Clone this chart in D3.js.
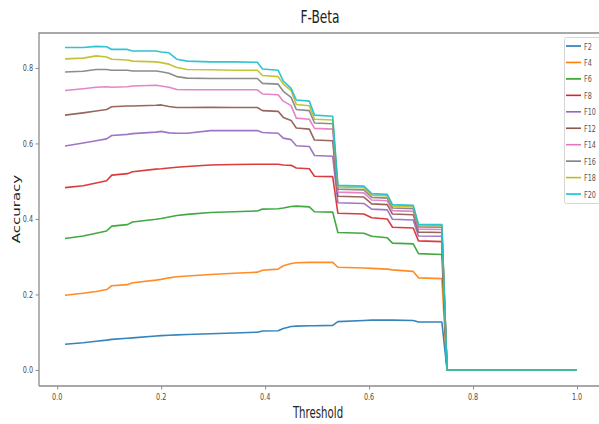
<!DOCTYPE html>
<html>
<head>
<meta charset="utf-8">
<script src="https://cdn.jsdelivr.net/npm/d3@7/dist/d3.min.js"></script>
<style>
  body { margin: 0; background: #fff; }
  svg text { font-family: "DejaVu Sans", sans-serif; }
</style>
</head>
<body>
<svg id="chart" width="599" height="424"></svg>
<script>
// thresholds (x) and one accuracy list per beta value
var thresholds = [0.015, 0.05, 0.075, 0.095, 0.105, 0.135, 0.145, 0.19, 0.2, 0.215, 0.23,
  0.25, 0.295, 0.34, 0.385, 0.395, 0.425, 0.435, 0.45, 0.46, 0.485, 0.495, 0.53, 0.54,
  0.59, 0.605, 0.635, 0.645, 0.685, 0.695, 0.74, 0.75, 1.0];

var f2 = [0.068, 0.072, 0.076, 0.079, 0.081, 0.084, 0.085, 0.090, 0.091, 0.092, 0.093,
  0.094, 0.096, 0.098, 0.100, 0.103, 0.104, 0.110, 0.115, 0.116, 0.117, 0.117, 0.118, 0.128,
  0.131, 0.132, 0.132, 0.132, 0.131, 0.127, 0.127, 0, 0];
var f4 = [0.198, 0.203, 0.208, 0.213, 0.223, 0.226, 0.231, 0.238, 0.240, 0.244, 0.247,
  0.249, 0.253, 0.256, 0.259, 0.264, 0.267, 0.276, 0.282, 0.284, 0.285, 0.285, 0.285, 0.272,
  0.270, 0.269, 0.267, 0.265, 0.261, 0.244, 0.242, 0, 0];
var f6 = [0.348, 0.355, 0.362, 0.368, 0.381, 0.385, 0.392, 0.399, 0.401, 0.405, 0.409,
  0.412, 0.417, 0.419, 0.421, 0.426, 0.427, 0.429, 0.433, 0.434, 0.432, 0.419, 0.418, 0.364,
  0.362, 0.354, 0.350, 0.336, 0.334, 0.308, 0.306, 0, 0];
var f8 = [0.483, 0.488, 0.495, 0.501, 0.516, 0.520, 0.525, 0.532, 0.533, 0.535, 0.537,
  0.539, 0.543, 0.544, 0.545, 0.545, 0.545, 0.543, 0.542, 0.535, 0.533, 0.513, 0.512, 0.415,
  0.413, 0.403, 0.400, 0.378, 0.376, 0.342, 0.340, 0, 0];
var f10 = [0.593, 0.601, 0.607, 0.612, 0.621, 0.624, 0.626, 0.630, 0.632, 0.628, 0.627,
  0.627, 0.634, 0.634, 0.634, 0.629, 0.627, 0.614, 0.610, 0.594, 0.592, 0.568, 0.566, 0.443,
  0.441, 0.426, 0.424, 0.399, 0.397, 0.355, 0.354, 0, 0];
var f12 = [0.675, 0.681, 0.686, 0.690, 0.697, 0.699, 0.699, 0.701, 0.702, 0.698, 0.695,
  0.695, 0.696, 0.695, 0.695, 0.687, 0.685, 0.669, 0.661, 0.641, 0.638, 0.609, 0.607, 0.460,
  0.458, 0.440, 0.438, 0.413, 0.411, 0.365, 0.364, 0, 0];
var f14 = [0.740, 0.745, 0.749, 0.750, 0.749, 0.750, 0.752, 0.754, 0.752, 0.749, 0.743,
  0.742, 0.742, 0.742, 0.742, 0.731, 0.729, 0.712, 0.700, 0.667, 0.664, 0.640, 0.638, 0.471,
  0.469, 0.450, 0.448, 0.422, 0.420, 0.373, 0.372, 0, 0];
var f16 = [0.789, 0.791, 0.796, 0.796, 0.794, 0.794, 0.792, 0.792, 0.790, 0.786, 0.777,
  0.773, 0.772, 0.772, 0.772, 0.759, 0.757, 0.738, 0.722, 0.690, 0.687, 0.654, 0.652, 0.479,
  0.477, 0.457, 0.455, 0.429, 0.427, 0.379, 0.378, 0, 0];
var f18 = [0.824, 0.826, 0.832, 0.829, 0.823, 0.821, 0.818, 0.816, 0.814, 0.810, 0.801,
  0.796, 0.795, 0.794, 0.794, 0.780, 0.777, 0.757, 0.740, 0.703, 0.700, 0.664, 0.662, 0.485,
  0.483, 0.463, 0.461, 0.434, 0.432, 0.383, 0.382, 0, 0];
var f20 = [0.854, 0.854, 0.857, 0.856, 0.849, 0.849, 0.845, 0.845, 0.842, 0.840, 0.823,
  0.818, 0.816, 0.816, 0.815, 0.797, 0.794, 0.765, 0.746, 0.715, 0.712, 0.675, 0.672, 0.489,
  0.487, 0.467, 0.465, 0.438, 0.436, 0.386, 0.385, 0, 0];

var seriesNames = ['F2', 'F4', 'F6', 'F8', 'F10', 'F12', 'F14', 'F16', 'F18', 'F20'];
var seriesValues = [f2, f4, f6, f8, f10, f12, f14, f16, f18, f20];
var colors = ['#1f77b4', '#ff7f0e', '#2ca02c', '#d62728', '#9467bd',
              '#8c564b', '#e377c2', '#7f7f7f', '#bcbd22', '#17becf'];
var xTicks = [0, 0.2, 0.4, 0.6, 0.8, 1.0];
var yTicks = [0, 0.2, 0.4, 0.6, 0.8];

(function() {

  var svg = d3.select('#chart');
  var squeeze = 0.68;   // the picture is narrowed, so text is too
  var spine = '#8c8c8c';

  var x = d3.scaleLinear().domain([-0.035, 1.05]).range([39, 603]);
  var y = d3.scaleLinear().domain([-0.0425, 0.8925]).range([386, 33]);

  drawAxes();
  drawLines();
  drawLegend();
  addTitles();

  function label(g, px, py, txt, size, anchor, color) {
    return g.append('text')
      .attr('transform', 'translate(' + px + ',' + py + ') scale(' + squeeze + ',1)')
      .attr('text-anchor', anchor || 'middle')
      .attr('fill', color || '#555')
      .style('font-size', size + 'px')
      .text(txt);
  }

  function drawAxes() {
    var xAxis = svg.append('g')
      .attr('transform', 'translate(0,386)')
      .call(d3.axisBottom(x).tickValues(xTicks).tickSize(3.5).tickFormat(''));
    var yAxis = svg.append('g')
      .attr('transform', 'translate(39,0)')
      .call(d3.axisLeft(y).tickValues(yTicks).tickSize(3.5).tickFormat(''));

    [xAxis, yAxis].forEach(function(a) {
      a.select('.domain').remove();
      a.selectAll('.tick line').attr('stroke', spine).attr('stroke-width', 1);
    });

    var labels = svg.append('g');
    xTicks.forEach(function(t) {
      label(labels, x(t), 400, d3.format('.1f')(t), 9.5, 'middle', '#4a4a4a');
    });
    yTicks.forEach(function(t) {
      label(labels, 33, y(t) + 3.5, d3.format('.1f')(t), 9.5, 'end', '#4a4a4a');
    });

    svg.append('path')
      .attr('d', 'M39,386V33H603M39,386H603')
      .attr('fill', 'none')
      .attr('stroke', spine)
      .attr('stroke-width', 1.3);
  }

  function drawLines() {
    var line = d3.line()
      .x(function(d) { return x(d[0]); })
      .y(function(d) { return y(d[1]); });

    seriesValues.forEach(function(vals, i) {
      svg.append('path')
        .datum(d3.zip(thresholds, vals))
        .attr('fill', 'none')
        .attr('stroke', colors[i])
        .attr('stroke-width', 1.6)
        .attr('stroke-opacity', 0.9)
        .attr('stroke-linejoin', 'round')
        .attr('d', line);
    });
  }

  function drawLegend() {
    var g = svg.append('g');
    g.append('rect')
      .attr('x', 564.5).attr('y', 37.5)
      .attr('width', 50).attr('height', 166)
      .attr('rx', 2)
      .attr('fill', '#fff')
      .attr('stroke', '#d6d6d6');

    seriesNames.forEach(function(name, i) {
      var ly = 46 + i * 16.45;
      g.append('line')
        .attr('x1', 566).attr('x2', 581)
        .attr('y1', ly).attr('y2', ly)
        .attr('stroke', colors[i])
        .attr('stroke-width', 1.6);
      label(g, 584, ly + 3.5, name, 9.5, 'start', '#555');
    });
  }

  function addTitles() {
    label(svg, 320, 23, 'F-Beta', 18, 'middle', '#222');
    label(svg, 318, 418, 'Threshold', 15, 'middle', '#222');

    svg.append('text')
      .attr('transform', 'translate(20,209) scale(' + squeeze + ',1) rotate(-90)')
      .attr('text-anchor', 'middle')
      .attr('fill', '#222')
      .style('font-size', '15px')
      .text('Accuracy');
  }
})();
</script>
</body>
</html>
